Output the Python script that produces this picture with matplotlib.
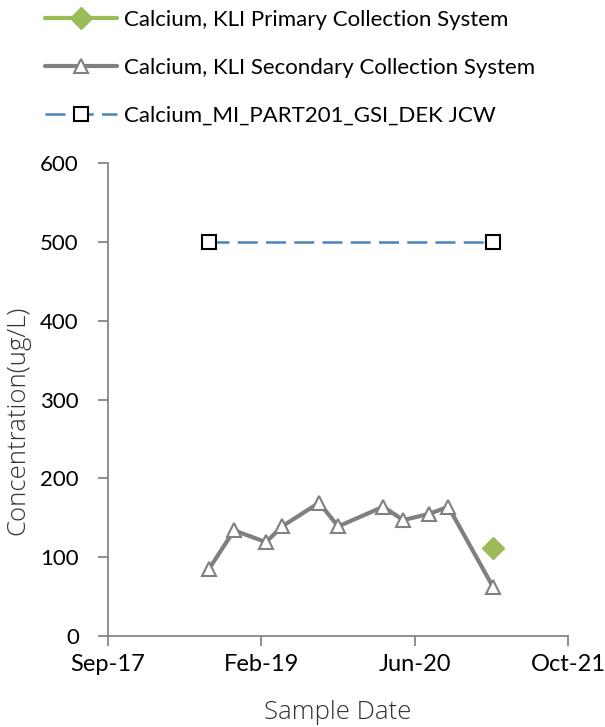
import matplotlib
matplotlib.use("Agg")
import matplotlib.pyplot as plt
import matplotlib.dates as mdates
import numpy as np
import pandas as pd

# Sample data
secondary_dates = ["2018-08-18", "2018-11-08", "2019-02-20", "2019-04-13",
                   "2019-08-12", "2019-10-13", "2020-03-08", "2020-05-12",
                   "2020-08-05", "2020-10-06", "2021-03-01"]
secondary_values = [85, 134, 119, 139, 169, 139, 164, 147, 155, 164, 62]

primary_dates = ["2021-03-01"]
primary_values = [112]

criteria_dates = ["2018-08-18", "2021-03-01"]
criteria_values = [500, 500]

x_ticks = ["2017-09-23", "2019-02-04", "2020-06-18", "2021-10-31"]
y_ticks = [0, 100, 200, 300, 400, 500, 600]

label_primary = "Calcium, KLI Primary Collection System"
label_secondary = "Calcium, KLI Secondary Collection System"
label_criteria = "Calcium_MI_PART201_GSI_DEK JCW"

GREEN = "#9BBB59"
GRAY = "#808080"
BLUE = "#4F81BD"
AXIS = "#868686"

plt.rcParams["font.family"] = ["Lato", "DejaVu Sans"]

fig = plt.figure(figsize=(6.05, 7.27), dpi=100)
ax = fig.add_axes([108 / 605, 1 - 636 / 727, 460 / 605, 473 / 727])

ax.plot(pd.to_datetime(primary_dates), primary_values, color=GREEN, lw=3,
        marker="D", markersize=11, markerfacecolor=GREEN, markeredgecolor=GREEN,
        label=label_primary, solid_capstyle="round")
ax.plot(pd.to_datetime(secondary_dates), secondary_values, color=GRAY, lw=3,
        marker="^", markersize=10, markerfacecolor="white", markeredgecolor=GRAY,
        markeredgewidth=1.5, label=label_secondary, solid_capstyle="round")
ax.plot(pd.to_datetime(criteria_dates), criteria_values, color=BLUE, lw=1.8,
        linestyle=(0, (8, 3.3)), marker="s", markersize=9.5,
        markerfacecolor="white", markeredgecolor="black", markeredgewidth=1.5,
        label=label_criteria)

xt = pd.to_datetime(x_ticks)
ax.set_xlim(xt[0], xt[-1])
ax.set_xticks(xt)
ax.xaxis.set_major_formatter(mdates.DateFormatter("%b-%y"))
ax.set_ylim(0, 600)
ax.set_yticks(y_ticks)

for s in ["top", "right"]:
    ax.spines[s].set_visible(False)
for s in ["left", "bottom"]:
    ax.spines[s].set_color(AXIS)
    ax.spines[s].set_linewidth(1.3)
ax.tick_params(axis="both", colors=AXIS, length=7, width=1.3, labelsize=17,
               labelcolor="black")
ax.tick_params(axis="x", pad=6)
ax.tick_params(axis="y", pad=14, labelsize=16)

title_font = dict(family=["Open Sans", "DejaVu Sans"], fontsize=18.5,
                  fontweight="light", color="#333333", va="center")
ax.set_xlabel("Sample Date", **title_font)
ax.set_ylabel("Concentration(ug/L)", **title_font)
ax.xaxis.set_label_coords(0.5, -0.161)
ax.yaxis.set_label_coords(-0.197, 0.457)

fig.legend(loc="upper left", bbox_to_anchor=(36 / 605, 1 - 1 / 727),
           frameon=False, fontsize=16, handlelength=3.25, handletextpad=0.3,
           labelspacing=1.25, borderaxespad=0)

fig.savefig("out.png", dpi=100)
